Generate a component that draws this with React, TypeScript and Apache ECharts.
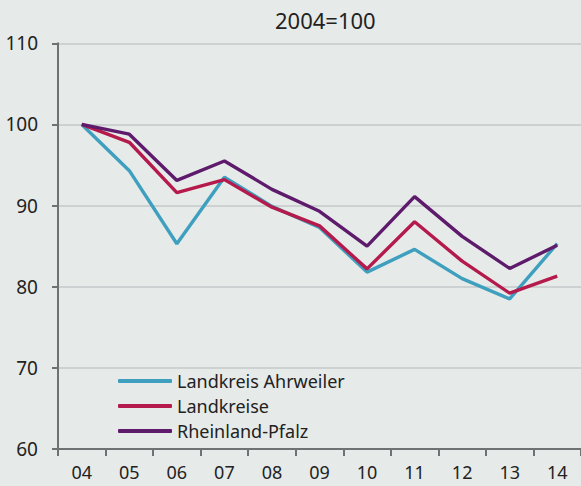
import React, { useEffect, useRef } from "react";
import * as echarts from "echarts";

const categories = ["04", "05", "06", "07", "08", "09", "10", "11", "12", "13", "14"];
const ahrweiler = [100, 94.3, 85.3, 93.5, 89.9, 87.3, 81.8, 84.6, 81.0, 78.5, 85.3];
const landkreise = [100, 97.8, 91.6, 93.2, 89.8, 87.5, 82.2, 88.0, 83.15, 79.2, 81.3];
const rlp = [100, 98.8, 93.1, 95.5, 92.0, 89.3, 85.0, 91.1, 86.2, 82.25, 85.1];
const seriesNames = ["Landkreis Ahrweiler", "Landkreise", "Rheinland-Pfalz"];
const colors = ["#3e9fbe", "#b51a4c", "#5e1b6c"];
const FONT = "Noto Sans";

export default function App() {
  const ref = useRef<HTMLDivElement>(null);
  useEffect(() => {
    if (!ref.current) return;
    const chart = echarts.init(ref.current, undefined, { renderer: "svg" });
    const data = [ahrweiler, landkreise, rlp];
    chart.setOption({
      animation: false,
      backgroundColor: "#e6eae9",
      title: {
        text: "2004=100",
        left: 270,
        top: 4,
        textStyle: { fontFamily: FONT, fontSize: 22, fontWeight: "normal", color: "#222" },
      },
      legend: {
        orient: "vertical",
        left: 118,
        top: 372,
        padding: 0,
        itemWidth: 54,
        itemHeight: 4,
        itemGap: 7,
        icon: "roundRect",
        data: seriesNames,
        textStyle: { fontFamily: FONT, fontSize: 18, color: "#222" },
      },
      grid: { left: 58, right: 0, top: 43.3, bottom: 37, containLabel: false },
      xAxis: {
        type: "category",
        data: categories,
        boundaryGap: true,
        axisLine: { lineStyle: { color: "#6f7272", width: 2 } },
        axisTick: { show: true, length: 7, lineStyle: { color: "#6f7272", width: 2 } },
        axisLabel: { fontFamily: FONT, fontSize: 18, lineHeight: 18, color: "#222", margin: 14 },
        splitLine: { show: false },
      },
      yAxis: {
        type: "value",
        min: 60,
        max: 110,
        interval: 10,
        axisLine: { show: true, lineStyle: { color: "#6f7272", width: 2 } },
        axisTick: { show: true, length: 6, lineStyle: { color: "#6f7272", width: 2 } },
        axisLabel: { fontFamily: FONT, fontSize: 19, color: "#222", margin: 20 },
        splitLine: { show: true, lineStyle: { color: "#c5c9c8", width: 1.5 } },
      },
      series: seriesNames.map((name, i) => ({
        name,
        type: "line",
        data: data[i],
        symbol: "none",
        lineStyle: { color: colors[i], width: 3.4 },
        itemStyle: { color: colors[i] },
        z: 2 + i,
      })),
    });
    return () => chart.dispose();
  }, []);
  return <div ref={ref} style={{ width: 581, height: 486, position: "absolute", left: 0, top: 0 }} />;
}
